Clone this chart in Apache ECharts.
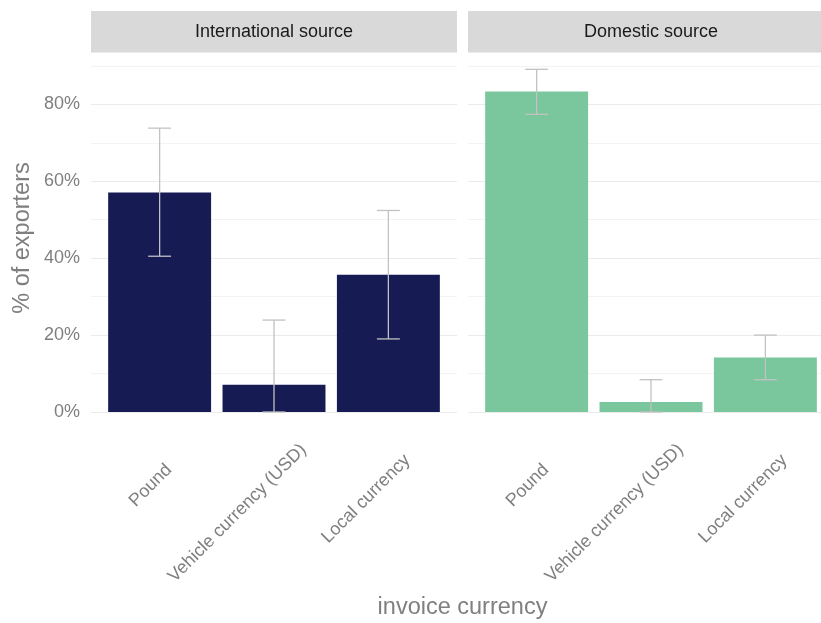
<!DOCTYPE html>
<html><head><meta charset="utf-8">
<script src="https://cdn.jsdelivr.net/npm/echarts@6/dist/echarts.min.js"></script>
<style>html,body{margin:0;padding:0;background:#fff}#c{width:821px;height:623px}</style>
</head><body><div id="c"></div>
<script>
// ---- data ----
const categories = ['Pound', 'Vehicle currency (USD)', 'Local currency'];
const panelTitles = ['International source', 'Domestic source'];
const intlPct  = [57.1, 7.1, 35.7];
const intlLow  = [40.5, 0.0, 19.0];
const intlHigh = [73.8, 23.9, 52.4];
const domPct   = [83.3, 2.6, 14.2];
const domLow   = [77.4, 0.0, 8.4];
const domHigh  = [89.1, 8.4, 20.0];
const yTickLabels = [0, 20, 40, 60, 80];
const xTitle = 'invoice currency';
const yTitle = '% of exporters';

// ---- style ----
const FONT = '"Liberation Sans", Arial, sans-serif';
const TICK_FS = 18;
const TITLE_FS = 23.5;
const colors = ['#171B54', '#7BC79D'];
const panelW = 366, panelTop = 52, panelH = 360;
const panelLefts = [91, 468];
const xMin = 0.4, xMax = 3.6, yMax = 93.6;
const band = panelW / (xMax - xMin);

const ctx = document.createElement('canvas').getContext('2d');
ctx.font = TICK_FS + 'px ' + FONT;
const rich = {};
categories.forEach((c, i) => {
  const L = ctx.measureText(c).width;
  rich['c' + i] = { fontSize: TICK_FS, fontFamily: FONT, color: '#7f7f7f', padding: [0, Math.max(0, 0.58 * L - 4.7), 0, 0] };
});

const chart = echarts.init(document.getElementById('c'), null, { renderer: 'canvas' });

const grids = [], xAxes = [], yAxes = [], series = [], graphics = [];
const panelData = [[intlPct, intlLow, intlHigh], [domPct, domLow, domHigh]];

panelLefts.forEach((left, k) => {
  grids.push({ left: left, top: panelTop, width: panelW, height: panelH, outerBoundsMode: 'none', containLabel: false });
  xAxes.push({
    type: 'value', gridIndex: k, min: xMin, max: xMax,
    axisLine: { show: false }, axisTick: { show: false }, splitLine: { show: false },
    axisLabel: {
      customValues: [1, 2, 3], rotate: 45, align: 'center', verticalAlign: 'middle', margin: 64.5,
      formatter: v => { const i = Math.round(v) - 1; return '{c' + i + '|' + categories[i] + '}'; },
      rich: rich
    }
  });
  yAxes.push({
    type: 'value', gridIndex: k, min: 0, max: yMax, interval: 10,
    axisLine: { show: false }, axisTick: { show: false },
    axisLabel: {
      show: k === 0, margin: 11, fontSize: TICK_FS, fontFamily: FONT, color: '#7f7f7f',
      formatter: v => (yTickLabels.indexOf(v) >= 0 ? v + '%' : '')
    },
    splitLine: { show: true, lineStyle: { color: ['#ebebeb', '#f3f3f3'], width: 1 } },
    name: k === 0 ? yTitle : '', nameLocation: 'middle', nameGap: 56,
    nameTextStyle: { fontSize: TITLE_FS, fontFamily: FONT, color: '#7f7f7f', padding: [0, 12, 0, 0] }
  });
  const [vals, lo, hi] = panelData[k];
  series.push({
    type: 'bar', xAxisIndex: k, yAxisIndex: k, barWidth: 0.9 * band,
    itemStyle: { color: colors[k] },
    data: vals.map((v, i) => [i + 1, v])
  });
  series.push({
    type: 'custom', xAxisIndex: k, yAxisIndex: k, z: 5,
    data: lo.map((l, i) => [i + 1, l, hi[i]]),
    encode: { x: 0, y: [1, 2] },
    renderItem: (params, api) => {
      const x = api.value(0);
      const pLo = api.coord([x, api.value(1)]);
      const pHi = api.coord([x, api.value(2)]);
      const half = api.size([0.1, 0])[0];
      const st = { stroke: '#c2c2c2', lineWidth: 1.3 };
      return { type: 'group', children: [
        { type: 'line', shape: { x1: pLo[0], y1: pLo[1], x2: pHi[0], y2: pHi[1] }, style: st },
        { type: 'line', shape: { x1: pHi[0] - half, y1: pHi[1], x2: pHi[0] + half, y2: pHi[1] }, style: st },
        { type: 'line', shape: { x1: pLo[0] - half, y1: pLo[1], x2: pLo[0] + half, y2: pLo[1] }, style: st }
      ]};
    }
  });
  graphics.push({ type: 'rect', left: left, top: 11, shape: { width: panelW, height: 41 }, style: { fill: '#d9d9d9' }, z: 0 });
  graphics.push({ type: 'text', x: left + panelW / 2, y: 32.5, style: { text: panelTitles[k], font: TICK_FS + 'px ' + FONT, fill: '#1a1a1a', textAlign: 'center', textVerticalAlign: 'middle' }, z: 1 });
});

graphics.push({ type: 'text', x: (panelLefts[0] + panelLefts[1] + panelW) / 2, y: 608, style: { text: xTitle, font: TITLE_FS + 'px ' + FONT, fill: '#7f7f7f', textAlign: 'center', textVerticalAlign: 'middle' } });

chart.setOption({
  animation: false,
  backgroundColor: '#ffffff',
  grid: grids, xAxis: xAxes, yAxis: yAxes, series: series, graphic: graphics
});
</script></body></html>
